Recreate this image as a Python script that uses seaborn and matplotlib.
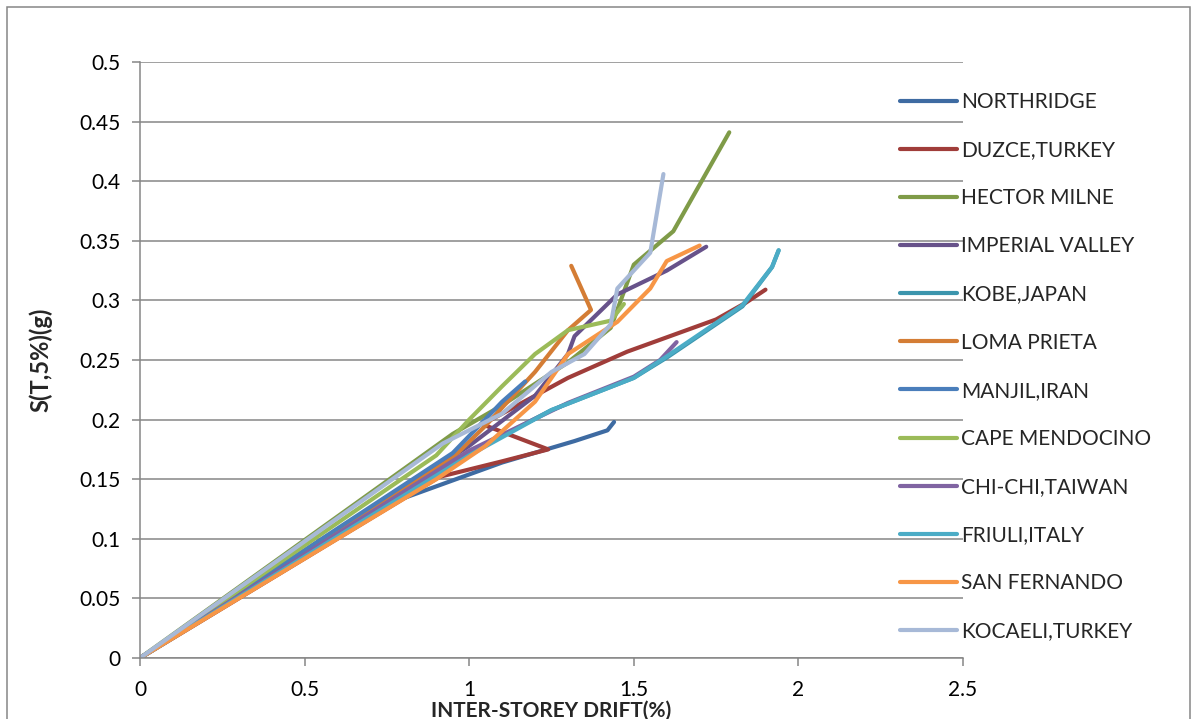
import numpy as np
import pandas as pd
import matplotlib
matplotlib.use("Agg")
import matplotlib.pyplot as plt
import seaborn as sns
from matplotlib.patches import Rectangle

names = ["NORTHRIDGE", "DUZCE,TURKEY", "HECTOR MILNE", "IMPERIAL VALLEY", "KOBE,JAPAN",
         "LOMA PRIETA", "MANJIL,IRAN", "CAPE MENDOCINO", "CHI-CHI,TAIWAN", "FRIULI,ITALY",
         "SAN FERNANDO", "KOCAELI,TURKEY"]
colors = ["#3E6BA2", "#A03D3A", "#7F9B48", "#67528A", "#3B95AD", "#D47D35",
          "#4A7EBB", "#9BBB59", "#8064A2", "#4BACC6", "#F79646", "#A7B9D7"]

northridge_x = [0, 0.80, 1.10, 1.32, 1.42, 1.44]
northridge_y = [0, 0.134, 0.164, 0.182, 0.191, 0.198]
duzce_x = [0, 0.91, 1.10, 1.24, 1.04, 1.30, 1.48, 1.75, 1.84, 1.90]
duzce_y = [0, 0.152, 0.165, 0.175, 0.196, 0.235, 0.257, 0.284, 0.298, 0.309]
hector_x = [0, 0.95, 1.10, 1.30, 1.43, 1.50, 1.62, 1.79]
hector_y = [0, 0.188, 0.212, 0.248, 0.277, 0.330, 0.358, 0.441]
imperial_x = [0, 1.00, 1.20, 1.30, 1.32, 1.45, 1.60, 1.72]
imperial_y = [0, 0.178, 0.220, 0.255, 0.270, 0.305, 0.325, 0.345]
kobe_x = [0, 1.00, 1.25, 1.50, 1.60, 1.83, 1.92, 1.94]
kobe_y = [0, 0.172, 0.208, 0.235, 0.252, 0.295, 0.328, 0.342]
loma_x = [0, 0.95, 1.05, 1.20, 1.30, 1.37, 1.31]
loma_y = [0, 0.168, 0.195, 0.240, 0.275, 0.292, 0.329]
manjil_x = [0, 0.95, 1.02, 1.10, 1.17]
manjil_y = [0, 0.172, 0.192, 0.215, 0.232]
cape_x = [0, 0.90, 1.00, 1.10, 1.20, 1.30, 1.43, 1.47]
cape_y = [0, 0.170, 0.200, 0.228, 0.255, 0.275, 0.283, 0.297]
chichi_x = [0, 1.00, 1.30, 1.50, 1.58, 1.63]
chichi_y = [0, 0.174, 0.214, 0.236, 0.250, 0.265]
friuli_x = [0, 1.00, 1.25, 1.50, 1.60, 1.83, 1.92, 1.94]
friuli_y = [0, 0.170, 0.208, 0.235, 0.253, 0.296, 0.328, 0.342]
sanfern_x = [0, 0.90, 1.05, 1.20, 1.30, 1.45, 1.55, 1.60, 1.70]
sanfern_y = [0, 0.150, 0.178, 0.215, 0.255, 0.282, 0.310, 0.333, 0.346]
kocaeli_x = [0, 0.92, 1.10, 1.25, 1.35, 1.43, 1.45, 1.55, 1.59]
kocaeli_y = [0, 0.180, 0.205, 0.240, 0.255, 0.280, 0.310, 0.340, 0.406]

xs = [northridge_x, duzce_x, hector_x, imperial_x, kobe_x, loma_x, manjil_x, cape_x,
      chichi_x, friuli_x, sanfern_x, kocaeli_x]
ys = [northridge_y, duzce_y, hector_y, imperial_y, kobe_y, loma_y, manjil_y, cape_y,
      chichi_y, friuli_y, sanfern_y, kocaeli_y]

rows = []
for n, xx, yy in zip(names, xs, ys):
    for i, (a, b) in enumerate(zip(xx, yy)):
        rows.append({"series": n, "order": i, "x": a, "y": b})
df = pd.DataFrame(rows)

sns.set_theme(style="white")
plt.rcParams['font.family'] = ['Lato', 'DejaVu Sans']

fig = plt.figure(figsize=(11.94, 7.19), dpi=100)
ax = fig.add_axes([140/1194, 1 - 658/719, (963-140)/1194, (658-62)/719])

sns.lineplot(data=df, x="x", y="y", hue="series", hue_order=names,
             palette=dict(zip(names, colors)), sort=False, estimator=None,
             linewidth=3, ax=ax, legend=True)

ax.set_xlim(0, 2.5)
ax.set_ylim(0, 0.5)
ax.set_xticks(np.arange(0, 2.51, 0.5))
ax.set_yticks(np.arange(0, 0.501, 0.05))
ax.set_xticklabels(["0", "0.5", "1", "1.5", "2", "2.5"])
ax.set_yticklabels(["0", "0.05", "0.1", "0.15", "0.2", "0.25", "0.3", "0.35", "0.4", "0.45", "0.5"])
ax.grid(axis="y", color="#868686", linewidth=1.1)
ax.set_axisbelow(True)
for s in ["top", "right"]:
    ax.spines[s].set_visible(False)
for s in ["left", "bottom"]:
    ax.spines[s].set_color("#868686")
    ax.spines[s].set_linewidth(1.1)
ax.tick_params(axis="both", which="both", direction="out", length=6, width=1.1,
               color="#868686", labelsize=15, labelcolor="black", left=True, bottom=True)
ax.tick_params(axis="x", pad=10)
ax.tick_params(axis="y", pad=8)
ax.set_xlabel("INTER-STOREY DRIFT(%)", fontsize=15, fontweight="bold", labelpad=0)
ax.set_ylabel("S(T,5%)(g)", fontsize=17, fontweight="bold", labelpad=19)

handles, labels = ax.get_legend_handles_labels()
ax.get_legend().remove()
for h in handles:
    h.set_solid_capstyle("round")
fig.legend(handles, labels, loc="upper left", bbox_to_anchor=(900/1194, 1 - 92/719),
           frameon=False, fontsize=15, handlelength=2.75, handletextpad=0.2,
           labelspacing=1.35, borderpad=0, borderaxespad=0)

fig.patches.append(Rectangle((7/1194, -0.01), (1190-7)/1194, 1.0, transform=fig.transFigure,
                             fill=False, edgecolor="#868686", linewidth=1.1))

fig.savefig("out.png", dpi=100)
